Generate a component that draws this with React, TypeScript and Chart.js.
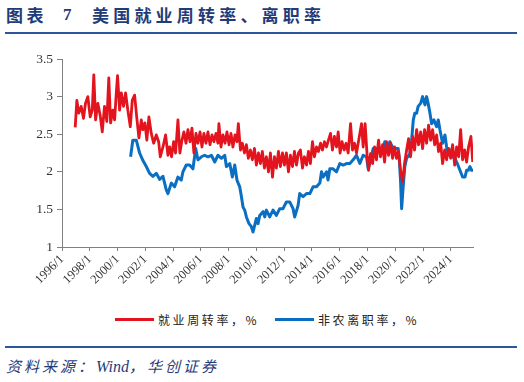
import React, { useEffect, useRef } from "react";
import { Chart, registerables } from "chart.js";

Chart.register(...registerables);

const xTickYears = [1996, 1998, 2000, 2002, 2004, 2006, 2008, 2010, 2012, 2014, 2016, 2018, 2020, 2022, 2024];
const yTicks = [1, 1.5, 2, 2.5, 3, 3.5];

const redName = "就业周转率，%";
const blueName = "非农离职率，%";

const redX = [
  1996.95, 1997.07, 1997.21, 1997.38, 1997.55, 1997.69, 1997.86, 1998.03, 1998.18, 1998.29,
  1998.42, 1998.58, 1998.75, 1998.9, 1999.06, 1999.23, 1999.37, 1999.5, 1999.66, 1999.79,
  1999.91, 2000.0, 2000.15, 2000.27, 2000.43, 2000.58, 2000.74, 2000.92, 2001.06, 2001.23,
  2001.39, 2001.54, 2001.71, 2001.83, 2001.97, 2002.11, 2002.26, 2002.43, 2002.6, 2002.79,
  2002.96, 2003.08, 2003.27, 2003.46, 2003.63, 2003.75, 2003.89, 2004.04, 2004.18, 2004.35,
  2004.49, 2004.64, 2004.78, 2004.93, 2005.07, 2005.22, 2005.36, 2005.5, 2005.65, 2005.79,
  2005.94, 2006.08, 2006.22, 2006.37, 2006.51, 2006.66, 2006.8, 2006.94, 2007.09, 2007.23,
  2007.3, 2007.45, 2007.59, 2007.74, 2007.88, 2008.03, 2008.17, 2008.31, 2008.46, 2008.6,
  2008.7, 2008.85, 2008.99, 2009.14, 2009.28, 2009.42, 2009.57, 2009.71, 2009.86, 2010.0,
  2010.15, 2010.29, 2010.43, 2010.58, 2010.72, 2010.87, 2011.01, 2011.16, 2011.3, 2011.44,
  2011.59, 2011.73, 2011.88, 2012.02, 2012.16, 2012.31, 2012.45, 2012.6, 2012.74, 2012.89,
  2013.03, 2013.17, 2013.32, 2013.46, 2013.61, 2013.75, 2013.89, 2014.04, 2014.18, 2014.33,
  2014.47, 2014.62, 2014.76, 2014.9, 2015.05, 2015.19, 2015.34, 2015.48, 2015.62, 2015.77,
  2015.89, 2016.03, 2016.17, 2016.32, 2016.46, 2016.61, 2016.78, 2016.92, 2017.07, 2017.21,
  2017.35, 2017.57, 2017.69, 2017.83, 2017.98, 2018.08, 2018.22, 2018.37, 2018.51, 2018.65,
  2018.8, 2018.94, 2019.09, 2019.23, 2019.37, 2019.52, 2019.66, 2019.81, 2019.95, 2020.09,
  2020.24, 2020.38, 2020.53, 2020.67, 2020.82, 2020.96, 2021.1, 2021.25, 2021.39, 2021.54,
  2021.68, 2021.83, 2021.97, 2022.11, 2022.26, 2022.4, 2022.55, 2022.69, 2022.84, 2022.98,
  2023.12, 2023.27, 2023.41, 2023.56, 2023.7, 2023.84, 2023.99, 2024.13, 2024.28, 2024.42,
  2024.57, 2024.71, 2024.85, 2025.0, 2025.14, 2025.28, 2025.45, 2025.58,
];
const redY = [
  2.59, 2.95, 2.78, 2.87, 2.71, 2.91, 3.0, 2.73, 2.82, 3.29,
  2.69, 2.91, 2.75, 2.53, 2.87, 2.67, 3.25, 2.65, 2.82, 2.69,
  3.05, 3.28, 2.82, 3.05, 2.87, 3.05, 2.82, 2.6, 2.95, 3.02,
  2.71, 2.45, 2.69, 2.56, 2.65, 2.42, 2.73, 2.51, 2.38, 2.49,
  2.4, 2.2, 2.33, 2.49, 2.22, 2.33, 2.2, 2.4, 2.25, 2.69,
  2.25, 2.42, 2.53, 2.38, 2.56, 2.4, 2.58, 2.25, 2.51, 2.38,
  2.53, 2.33, 2.51, 2.38, 2.53, 2.36, 2.49, 2.4, 2.51, 2.38,
  2.64, 2.33, 2.49, 2.38, 2.53, 2.36, 2.51, 2.33, 2.49, 2.4,
  2.64, 2.29, 2.38, 2.25, 2.36, 2.18, 2.29, 2.16, 2.31, 2.09,
  2.25, 2.11, 2.27, 2.05, 2.2, 2.0, 2.25, 1.93, 2.2, 2.05,
  2.27, 2.07, 2.25, 2.09, 2.25, 2.0, 2.22, 2.07, 2.27, 2.09,
  2.25, 2.29, 2.05, 2.2, 2.09, 2.27, 2.11, 2.4, 2.2, 2.33,
  2.27, 2.38, 2.29, 2.4, 2.33, 2.42, 2.51, 2.29, 2.47, 2.33,
  2.53, 2.25, 2.4, 2.29, 2.38, 2.25, 2.64, 2.29, 2.38, 2.25,
  2.4, 2.64, 2.33, 2.64, 2.2, 2.02, 2.24, 2.11, 2.33, 2.16,
  2.42, 2.2, 2.36, 2.13, 2.4, 2.22, 2.38, 2.18, 2.33, 2.18,
  2.27, 2.02, 1.87, 2.11, 2.29, 2.44, 2.2, 2.47, 2.29, 2.56,
  2.36, 2.53, 2.31, 2.56, 2.38, 2.62, 2.42, 2.56, 2.36, 2.49,
  2.27, 2.38, 2.11, 2.29, 2.16, 2.31, 2.18, 2.36, 2.09, 2.33,
  2.2, 2.56, 2.16, 2.29, 2.13, 2.33, 2.47, 2.13,
];

const blueX = [
  2000.94, 2001.1, 2001.35, 2001.59, 2001.83, 2002.07, 2002.31, 2002.55, 2002.79, 2003.03,
  2003.27, 2003.51, 2003.63, 2003.87, 2004.11, 2004.35, 2004.59, 2004.71, 2004.95, 2005.19,
  2005.43, 2005.63, 2005.79, 2006.04, 2006.27, 2006.51, 2006.76, 2007.0, 2007.23, 2007.48,
  2007.72, 2007.84, 2008.08, 2008.27, 2008.44, 2008.6, 2008.8, 2008.92, 2009.04, 2009.16,
  2009.28, 2009.47, 2009.64, 2009.76, 2009.88, 2010.0, 2010.12, 2010.24, 2010.48, 2010.6,
  2010.72, 2010.96, 2011.2, 2011.44, 2011.68, 2011.92, 2012.16, 2012.4, 2012.64, 2012.76,
  2013.0, 2013.12, 2013.36, 2013.61, 2013.85, 2014.08, 2014.33, 2014.57, 2014.69, 2014.8,
  2015.05, 2015.16, 2015.29, 2015.52, 2015.77, 2016.01, 2016.25, 2016.49, 2016.73, 2016.97,
  2017.21, 2017.45, 2017.69, 2017.93, 2018.05, 2018.17, 2018.41, 2018.65, 2018.96, 2019.13,
  2019.25, 2019.49, 2019.61, 2019.85, 2020.21, 2020.28, 2020.38, 2020.46, 2020.57, 2020.69,
  2020.82, 2021.05, 2021.18, 2021.3, 2021.41, 2021.54, 2021.65, 2021.83, 2021.97, 2022.14,
  2022.26, 2022.37, 2022.5, 2022.62, 2022.78, 2022.98, 2023.1, 2023.22, 2023.41, 2023.58,
  2023.7, 2023.82, 2023.99, 2024.13, 2024.3, 2024.47, 2024.66, 2024.85, 2025.02, 2025.14,
  2025.26, 2025.38, 2025.5, 2025.6,
];
const blueY = [
  2.2, 2.42, 2.42, 2.25, 2.15, 2.07, 1.98, 1.94, 1.98, 1.9,
  1.94, 1.76, 1.71, 1.85, 1.8, 1.93, 1.89, 2.0, 2.09, 2.09,
  2.04, 2.31, 2.16, 2.2, 2.22, 2.2, 2.22, 2.13, 2.22, 2.18,
  2.22, 2.07, 2.11, 1.93, 2.09, 1.89, 1.8, 1.67, 1.53, 1.49,
  1.4, 1.31, 1.27, 1.2, 1.29, 1.38, 1.31, 1.42, 1.47, 1.4,
  1.49, 1.4, 1.49, 1.42, 1.51, 1.51, 1.6, 1.6, 1.51, 1.4,
  1.55, 1.71, 1.67, 1.71, 1.71, 1.8, 1.8, 1.85, 2.0, 1.93,
  2.0, 1.89, 2.04, 2.04, 2.0, 2.11, 2.09, 2.11, 2.11, 2.16,
  2.22, 2.11, 2.22, 2.2, 2.04, 2.11, 2.31, 2.31, 2.31, 2.31,
  2.4, 2.31, 2.4, 2.31, 2.31, 2.2, 1.89, 1.51, 1.8, 2.07,
  2.18, 2.24, 2.42, 2.69, 2.78, 2.78, 2.87, 2.91, 3.0, 2.89,
  3.0, 2.91, 2.78, 2.64, 2.69, 2.6, 2.69, 2.56, 2.38, 2.49,
  2.33, 2.24, 2.29, 2.2, 2.18, 2.11, 2.02, 1.93, 1.93, 2.02,
  2.02, 2.07, 2.02, 2.02,
];

const RED = "#E3141E";
const BLUE = "#0A6FC2";
const NAVY = "#1F3C78";

export default function App() {
  const canvasRef = useRef<HTMLCanvasElement | null>(null);

  useEffect(() => {
    const canvas = canvasRef.current;
    if (!canvas) return;
    const chart = new Chart(canvas, {
      type: "line",
      data: {
        datasets: [
          {
            label: redName,
            data: redX.map((x, i) => ({ x, y: redY[i] })),
            borderColor: RED,
            backgroundColor: RED,
            borderWidth: 2.8,
            pointRadius: 0,
            tension: 0,
            borderJoinStyle: "round",
          },
          {
            label: blueName,
            data: blueX.map((x, i) => ({ x, y: blueY[i] })),
            borderColor: BLUE,
            backgroundColor: BLUE,
            borderWidth: 3,
            pointRadius: 0,
            tension: 0,
            borderJoinStyle: "round",
          },
        ],
      },
      options: {
        animation: false,
        responsive: false,
        maintainAspectRatio: false,
        layout: { padding: { left: 0, right: 51, top: 19, bottom: 0 } },
        plugins: {
          legend: { display: false },
          tooltip: { enabled: false },
        },
        scales: {
          x: {
            type: "linear",
            min: 1996,
            max: 2025.6,
            afterFit: (s: any) => {
              s.height = 53;
            },
            afterBuildTicks: (s: any) => {
              s.ticks = xTickYears.map((v) => ({ value: v }));
            },
            ticks: {
              autoSkip: false,
              maxRotation: 45,
              minRotation: 45,
              padding: 1,
              color: "#333",
              font: { family: "'Liberation Serif', serif", size: 12.5 },
              callback: (v: any) => `${v}/1`,
            },
            grid: {
              display: true,
              drawOnChartArea: false,
              drawTicks: true,
              tickLength: 4,
              color: "#808080",
            },
            border: { display: true, color: "#808080", width: 1 },
          },
          y: {
            min: 1,
            max: 3.5,
            afterFit: (s: any) => {
              s.width = 62;
            },
            afterBuildTicks: (s: any) => {
              s.ticks = yTicks.map((v) => ({ value: v }));
            },
            ticks: {
              padding: 4,
              color: "#333",
              font: { family: "'Liberation Serif', serif", size: 13.5 },
              callback: (v: any) => `${v}`,
            },
            grid: {
              display: true,
              drawOnChartArea: false,
              drawTicks: true,
              tickLength: 5,
              color: "#808080",
            },
            border: { display: true, color: "#808080", width: 1 },
          },
        },
      },
    });
    return () => chart.destroy();
  }, []);

  const cjk = "'Noto Sans CJK SC', 'Noto Sans', sans-serif";

  return (
    <div
      style={{
        position: "fixed",
        left: 0,
        top: 0,
        width: 524,
        height: 382,
        background: "#fff",
        overflow: "hidden",
      }}
    >
      <div
        style={{
          position: "absolute",
          left: 6,
          top: 4,
          fontFamily: cjk,
          fontWeight: 700,
          fontSize: 17,
          lineHeight: "22px",
          color: NAVY,
          whiteSpace: "nowrap",
        }}
      >
        <span style={{ letterSpacing: 3.5 }}>图表</span>
        <span style={{ position: "absolute", left: 57, fontFamily: "'Liberation Serif', serif" }}>7</span>
        <span style={{ position: "absolute", left: 86, letterSpacing: 4.2 }}>美国就业周转率、离职率</span>
      </div>
      <div style={{ position: "absolute", left: 5, top: 32, width: 512, height: 2, background: "#2E5597" }} />

      <canvas
        ref={canvasRef}
        width={524}
        height={260}
        style={{ position: "absolute", left: 0, top: 40, width: 524, height: 260 }}
      />

      <div
        style={{
          position: "absolute",
          left: 0,
          top: 310,
          width: 524,
          height: 20,
          fontFamily: cjk,
          fontSize: 12,
          color: "#222",
        }}
      >
        <div style={{ position: "absolute", left: 115, top: 8, width: 39, height: 3, background: RED }} />
        <div style={{ position: "absolute", left: 158, top: 1, letterSpacing: 2.6, whiteSpace: "nowrap" }}>{redName}</div>
        <div style={{ position: "absolute", left: 275, top: 8, width: 39, height: 3, background: BLUE }} />
        <div style={{ position: "absolute", left: 318, top: 1, letterSpacing: 2.6, whiteSpace: "nowrap" }}>{blueName}</div>
      </div>

      <div style={{ position: "absolute", left: 5, top: 346, width: 512, height: 2, background: "#2E5597" }} />
      <div
        style={{
          position: "absolute",
          left: 6,
          top: 355,
          fontFamily: cjk,
          fontStyle: "italic",
          fontSize: 15,
          color: NAVY,
          whiteSpace: "nowrap",
        }}
      >
        <span style={{ letterSpacing: 3 }}>资料来源：</span>
        <span style={{ fontFamily: "'Liberation Serif', serif", fontSize: 16 }}>Wind</span>
        <span style={{ letterSpacing: 3 }}>，华创证券</span>
      </div>
    </div>
  );
}
